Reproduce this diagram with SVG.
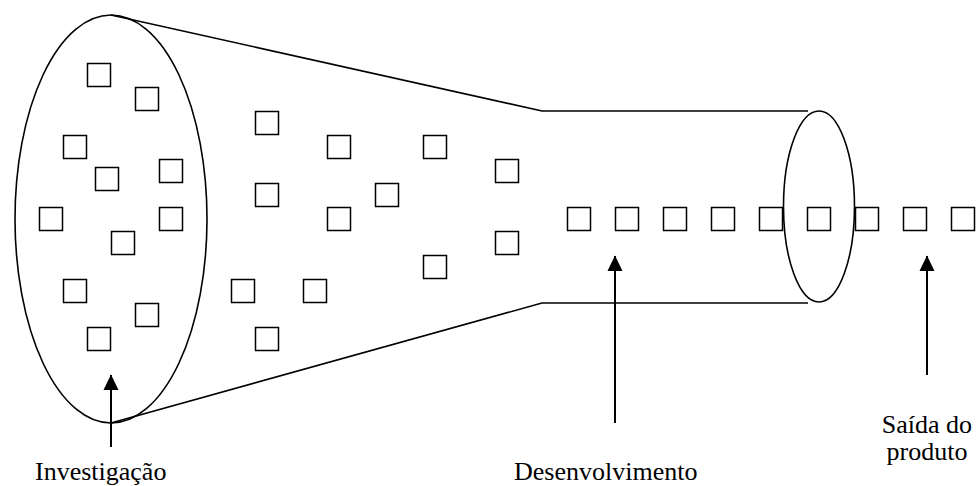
<svg xmlns="http://www.w3.org/2000/svg" width="977" height="486" viewBox="0 0 977 486">
<style>
.ln{fill:none;stroke:#000;stroke-width:1.6}
.sq{fill:none;stroke:#000;stroke-width:1.5}
.ar{fill:none;stroke:#000;stroke-width:2}
</style>
<defs>
<marker id="ah" markerUnits="userSpaceOnUse" markerWidth="16" markerHeight="16" viewBox="0 0 16 16" refX="15" refY="8" orient="auto">
<path d="M0,0.5 L15.5,8 L0,15.5 Z" fill="#000"/>
</marker>
</defs>
<rect width="977" height="486" fill="#fff"/>
<g id="funnel">
<ellipse class="ln" cx="111" cy="219" rx="96" ry="204"/>
<path class="ln" d="M111,15 L542,111 L808,111"/>
<path class="ln" d="M111,423 L542,303 L808,303"/>
<ellipse class="ln" cx="819" cy="206.5" rx="35.5" ry="95.5"/>
</g>
<g id="ideas">
<rect class="sq" x="87.5" y="63.5" width="23" height="23"/>
<rect class="sq" x="135.5" y="87.5" width="23" height="23"/>
<rect class="sq" x="63.5" y="135.5" width="23" height="23"/>
<rect class="sq" x="159.5" y="159.5" width="23" height="23"/>
<rect class="sq" x="95.5" y="167.5" width="23" height="23"/>
<rect class="sq" x="39.5" y="207.5" width="23" height="23"/>
<rect class="sq" x="159.5" y="207.5" width="23" height="23"/>
<rect class="sq" x="111.5" y="231.5" width="23" height="23"/>
<rect class="sq" x="63.5" y="279.5" width="23" height="23"/>
<rect class="sq" x="135.5" y="303.5" width="23" height="23"/>
<rect class="sq" x="87.5" y="327.5" width="23" height="23"/>
<rect class="sq" x="255.5" y="111.5" width="23" height="23"/>
<rect class="sq" x="255.5" y="183.5" width="23" height="23"/>
<rect class="sq" x="231.5" y="279.5" width="23" height="23"/>
<rect class="sq" x="303.5" y="279.5" width="23" height="23"/>
<rect class="sq" x="255.5" y="327.5" width="23" height="23"/>
<rect class="sq" x="327.5" y="135.5" width="23" height="23"/>
<rect class="sq" x="423.5" y="135.5" width="23" height="23"/>
<rect class="sq" x="495.5" y="159.5" width="23" height="23"/>
<rect class="sq" x="375.5" y="183.5" width="23" height="23"/>
<rect class="sq" x="327.5" y="207.5" width="23" height="23"/>
<rect class="sq" x="495.5" y="231.5" width="23" height="23"/>
<rect class="sq" x="423.5" y="255.5" width="23" height="23"/>
</g>
<g id="pipeline">
<rect class="sq" x="567.5" y="207.5" width="23" height="23"/>
<rect class="sq" x="615.5" y="207.5" width="23" height="23"/>
<rect class="sq" x="663.5" y="207.5" width="23" height="23"/>
<rect class="sq" x="711.5" y="207.5" width="23" height="23"/>
<rect class="sq" x="759.5" y="207.5" width="23" height="23"/>
<rect class="sq" x="807.5" y="207.5" width="23" height="23"/>
<rect class="sq" x="855.5" y="207.5" width="23" height="23"/>
<rect class="sq" x="903.5" y="207.5" width="23" height="23"/>
<rect class="sq" x="951.5" y="207.5" width="23" height="23"/>
</g>
<g id="connectors">
<line class="ar" x1="111" y1="447" x2="111" y2="375" marker-end="url(#ah)"/>
<line class="ar" x1="615" y1="423" x2="615" y2="256" marker-end="url(#ah)"/>
<line class="ar" x1="927" y1="375" x2="927" y2="256" marker-end="url(#ah)"/>
</g>
<g id="labels" font-family="'Liberation Serif', 'Times New Roman', 'DejaVu Serif', serif" font-size="26" fill="#000">
<text x="35" y="480">Investigação</text>
<text x="514" y="480">Desenvolvimento</text>
<text x="927" y="433" text-anchor="middle">Saída do</text>
<text x="927" y="460" text-anchor="middle">produto</text>
</g>
</svg>
